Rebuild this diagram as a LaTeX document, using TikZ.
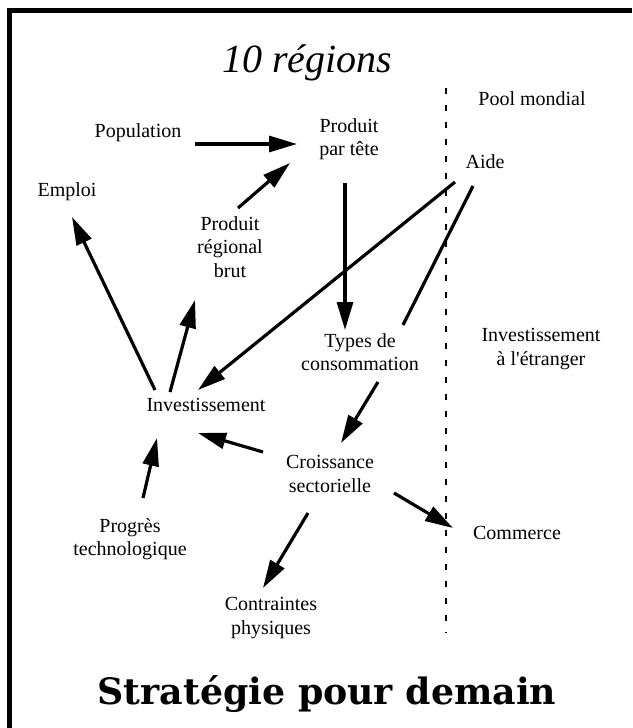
\documentclass[tikz,border=0pt]{standalone}
\usepackage{fontspec}
\setmainfont{Liberation Serif}
\newfontfamily\titrefont{DejaVu Serif}
\usetikzlibrary{arrows.meta}
\begin{document}
\begin{tikzpicture}[x=1pt, y=-1pt, every node/.style={align=center,
		font=\fontsize{20}{23.5}\selectfont},
		fleche/.style={line width=3.2pt, -{Triangle[length=28pt,width=16pt]}},
		trait/.style={line width=3.2pt} ]
	\useasboundingbox (0,0) rectangle (632,728);
	\draw[line width=5pt, line join=miter] (9.5,728) -- (9.5,10.5) -- (632,10.5);
	\draw[line width=2.8pt, dash pattern=on 6pt off 11pt] (446,88) -- (446,633);
	\node[anchor=base] (regions) at (307,72) {\fontsize{40}{42}\selectfont\itshape 10 régions};
	\node (pool) at (532,99) {Pool mondial};
	\node (pop) at (138,133) {Population};
	\node (ppt) at (349,139) {Produit\\par tête};
	\node (aide) at (485,162) {Aide};
	\node (emploi) at (67,192) {Emploi};
	\node (prb) at (230,247) {Produit\\régional\\brut};
	\node (types) at (360,352) {Types de\\consommation};
	\node (etranger) at (541,349) {Investissement\\à l\textquotesingle étranger};
	\node (inv) at (206,405) {Investissement};
	\node (crois) at (330,474) {Croissance\\sectorielle};
	\node (progres) at (130,539) {Progrès\\technologique};
	\node (commerce) at (517,533) {Commerce};
	\node (contr) at (271,618) {Contraintes\\physiques};
	\node[anchor=base] (strat) at (327,704) {\titrefont\bfseries\fontsize{36.3}{38}\selectfont Stratégie pour demain};
	\draw[fleche] ([shift={(57,11)}]pop.center) -- ([shift={(-52,5)}]ppt.center);
	\draw[fleche] ([shift={(8,-39)}]prb.center) -- ([shift={(-59,24)}]ppt.center);
	\draw[fleche] ([shift={(-51,-15)}]inv.center) -- ([shift={(5,25)}]emploi.center);
	\draw[fleche] ([shift={(-36,-13)}]inv.center) -- ([shift={(-35,53)}]prb.center);
	\draw[fleche] ([shift={(-30,20)}]aide.center) -- ([shift={(-8,-15)}]inv.center);
	\draw[trait] ([shift={(-12,24)}]aide.center) -- ([shift={(43,-27)}]types.center);
	\draw[fleche] ([shift={(-4,44)}]ppt.center) -- ([shift={(-15,-22)}]types.center);
	\draw[fleche] ([shift={(18,30)}]types.center) -- ([shift={(11,-31)}]crois.center);
	\draw[fleche] ([shift={(-67,-22)}]crois.center) -- ([shift={(-8,28)}]inv.center);
	\draw[fleche] ([shift={(13,-41)}]progres.center) -- ([shift={(-49,33)}]inv.center);
	\draw[fleche] ([shift={(-22,39)}]crois.center) -- ([shift={(-8,-30)}]contr.center);
	\draw[fleche] ([shift={(64,19)}]crois.center) -- ([shift={(-64,-5)}]commerce.center);
\end{tikzpicture}
\end{document}
